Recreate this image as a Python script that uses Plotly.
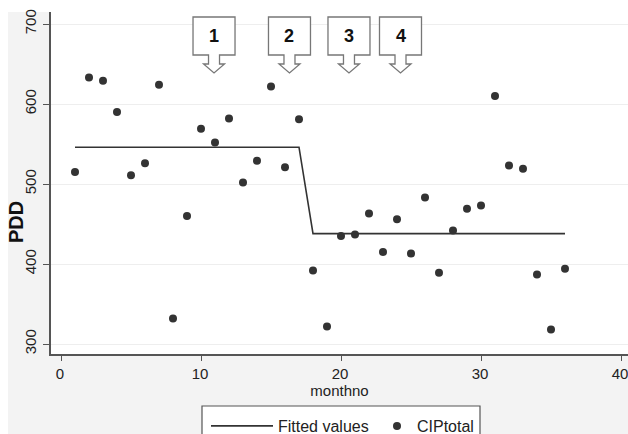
import plotly.graph_objects as go

# ---- data ----
months = list(range(1, 37))
cip_total = [515, 633, 629, 590, 511, 526, 624, 332, 460, 569, 552, 582,
             502, 529, 622, 521, 581, 392, 322, 435, 437, 463, 415, 456,
             413, 483, 389, 442, 469, 473, 610, 523, 519, 387, 318, 394]
fitted = [546] * 17 + [438] * 19
intervention_x = [10.93, 16.32, 20.57, 24.25]
intervention_labels = ["1", "2", "3", "4"]
x_ticks = [0, 10, 20, 30, 40]
y_ticks = [300, 400, 500, 600, 700]

# ---- layout constants (page pixels) ----
W, H = 628, 434
L, R, T, B = 51, 0, 12, 80
XR = [-10 / 14, 567 / 14]
YR = [287.5, 715.0]
ppx = (W - L - R) / (XR[1] - XR[0])
ppy = (H - T - B) / (YR[1] - YR[0])

def dx(px_off):
    return px_off / ppx

def ydata(py):
    return YR[1] - (py - T) / ppy

def paper_x(px):
    return (px - L) / (W - L - R)

def paper_y(py):
    return (H - B - py) / (H - T - B)

FONT = "Liberation Sans, Arial, sans-serif"
GRAY_BG = "#f3f3f3"

fig = go.Figure()
fig.add_trace(go.Scatter(
    x=months, y=fitted, mode="lines", name="Fitted values",
    line=dict(color="#333333", width=1.6), legend="legend"))
fig.add_trace(go.Scatter(
    x=months, y=cip_total, mode="markers", name="CIPtotal",
    marker=dict(color="#333333", size=8), legend="legend2"))

shapes = []
# white outer bands (top and left), outside the plot area
shapes.append(dict(type="rect", xref="paper", yref="paper", layer="below",
                   x0=paper_x(-5), x1=paper_x(W + 5), y0=paper_y(12), y1=paper_y(-5),
                   fillcolor="white", line=dict(width=0)))
shapes.append(dict(type="rect", xref="paper", yref="paper", layer="below",
                   x0=paper_x(-5), x1=paper_x(8), y0=paper_y(H + 5), y1=paper_y(-5),
                   fillcolor="white", line=dict(width=0)))
# legend frame
shapes.append(dict(type="rect", xref="paper", yref="paper", layer="below",
                   x0=paper_x(202), x1=paper_x(480), y0=paper_y(406), y1=paper_y(H + 10),
                   fillcolor="white", line=dict(color="#555555", width=1.2)))

# callout arrows
annotations = []
for cx, lab in zip(intervention_x, intervention_labels):
    pts = [(-21, 17), (21, 17), (21, 55), (5.5, 55), (5.5, 64), (10.5, 64),
           (0, 73), (-10.5, 64), (-5.5, 64), (-5.5, 55), (-21, 55)]
    path = "M" + " L".join(f"{cx + dx(a):.4f},{ydata(b):.4f}" for a, b in pts) + " Z"
    shapes.append(dict(type="path", xref="x", yref="y", path=path,
                       fillcolor="white", line=dict(color="#777777", width=1.3),
                       layer="above"))
    annotations.append(dict(x=cx, y=ydata(36), xref="x", yref="y", text=f"<b>{lab}</b>",
                            showarrow=False, font=dict(size=18, color="#111111", family=FONT)))

# y-axis title placed precisely
annotations.append(dict(x=paper_x(16), y=paper_y(222), xref="paper", yref="paper", xanchor="center",
                        yanchor="middle", text="<b>PDD</b>", textangle=-90, showarrow=False,
                        font=dict(size=20, color="#111111", family=FONT)))

legend_common = dict(orientation="h", xanchor="left", yanchor="top",
                     bgcolor="rgba(0,0,0,0)", borderwidth=0,
                     font=dict(size=16, color="#222222"))

fig.update_layout(
    width=W, height=H, autosize=False,
    margin=dict(l=L, r=R, t=T, b=B, autoexpand=False),
    paper_bgcolor=GRAY_BG, plot_bgcolor="white",
    font=dict(family=FONT, color="#222222"),
    shapes=shapes, annotations=annotations,
    showlegend=True,
    legend=dict(x=paper_x(206), y=paper_y(409), itemwidth=62, **legend_common),
    legend2=dict(x=paper_x(377), y=paper_y(409), itemwidth=30, **legend_common),
    xaxis=dict(range=XR, tickvals=x_ticks, ticks="outside", ticklen=5, tickcolor="#555555",
               showline=True, linecolor="#555555", linewidth=1.5, showgrid=False, zeroline=False,
               ticklabeloverflow="allow", ticklabelshift=-1,
               tickfont=dict(size=15, color="#222222"),
               title=dict(text="monthno", font=dict(size=15, color="#222222"), standoff=0)),
    yaxis=dict(range=YR, tickvals=y_ticks, ticks="outside", ticklen=6, tickcolor="#555555",
               tickangle=-90, showline=True, linecolor="#555555", linewidth=1.5,
               showgrid=True, gridcolor="#eeeeee", gridwidth=1, zeroline=False,
               ticklabelstandoff=1,
               tickfont=dict(size=15, color="#222222")),
)

fig.write_html("out.html", config={"displayModeBar": False},
               post_script="document.body.style.margin='0';document.body.style.overflow='hidden';")
